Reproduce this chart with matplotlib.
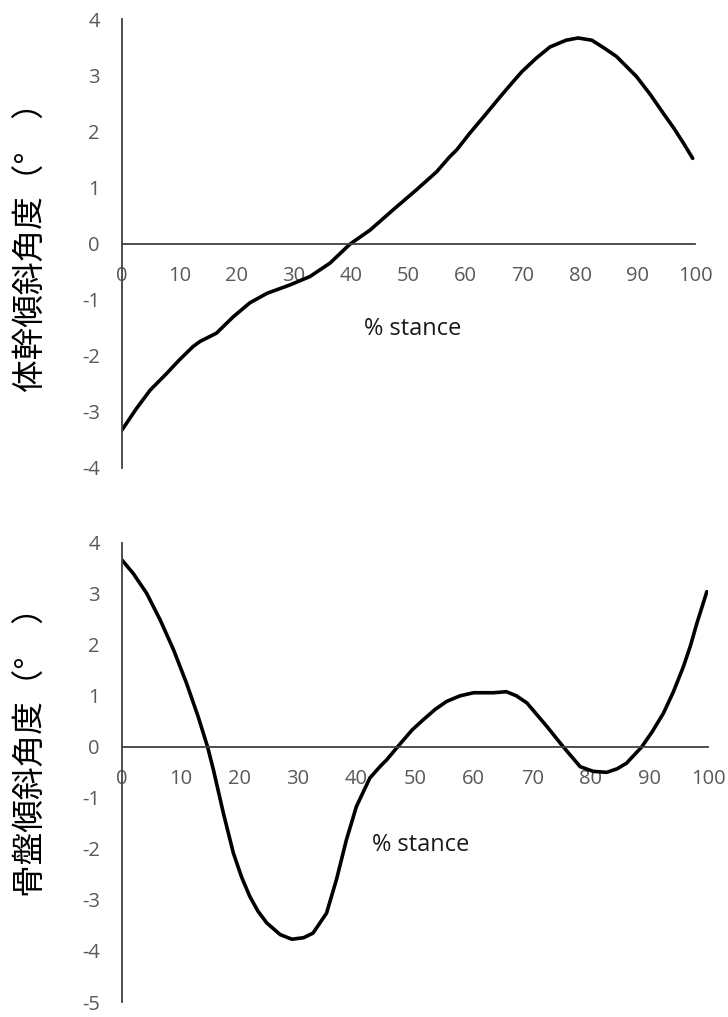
import matplotlib
matplotlib.use("Agg")
import matplotlib.pyplot as plt

plt.rcParams["axes.unicode_minus"] = False

# ---- data ----
trunk_x = [0, 2.5, 4.9, 7.8, 10, 12.4, 13.6, 16.5, 19.4, 22.3, 25.3, 29.3, 32.8, 36.3,
           39.8, 43.3, 47.3, 51.4, 54.9, 57.2, 58.4, 60.7, 63.5, 66, 68, 69.8, 72.3,
           74.7, 77.5, 79.6, 82, 84, 86.3, 89.8, 92.2, 94.5, 96.3, 98, 99.6]
trunk = [-3.33, -2.95, -2.62, -2.32, -2.08, -1.84, -1.75, -1.60, -1.31, -1.06, -0.89,
         -0.74, -0.59, -0.35, -0.01, 0.24, 0.60, 0.96, 1.28, 1.55, 1.67, 1.97, 2.31,
         2.62, 2.86, 3.07, 3.31, 3.51, 3.63, 3.67, 3.63, 3.50, 3.34, 2.98, 2.66, 2.32,
         2.06, 1.79, 1.52]

pelvis_x = [0, 1.9, 4.2, 6.5, 8.8, 11.0, 13.0, 14.6, 15.6, 17.3, 19.0, 20.4, 21.8, 23.2,
            24.7, 27, 29.0, 31, 32.6, 34.9, 36.6, 38.3, 40.0, 42.3, 44, 45.2, 47.4, 49.5,
            51.4, 53.4, 55.4, 57.7, 60.0, 63.4, 65.6, 67.3, 69.1, 72.5, 75.3, 78.2, 80.4,
            82.7, 84.5, 86.1, 88.7, 90.5, 92.4, 94.1, 95.8, 97, 98.1, 99.8]
pelvis = [3.66, 3.40, 3.01, 2.49, 1.90, 1.25, 0.59, 0.0, -0.45, -1.30, -2.08, -2.55,
          -2.93, -3.22, -3.45, -3.68, -3.77, -3.74, -3.65, -3.26, -2.60, -1.82, -1.17,
          -0.61, -0.39, -0.25, 0.05, 0.33, 0.53, 0.73, 0.89, 1.00, 1.06, 1.06, 1.08,
          1.00, 0.86, 0.40, 0.0, -0.39, -0.48, -0.50, -0.43, -0.32, 0.0, 0.30, 0.66,
          1.08, 1.57, 1.98, 2.42, 3.04]

xticks = [0, 10, 20, 30, 40, 50, 60, 70, 80, 90, 100]
top_yticks = [-4, -3, -2, -1, 0, 1, 2, 3, 4]
bot_yticks = [-5, -4, -3, -2, -1, 0, 1, 2, 3, 4]
top_ylabel = "体幹傾斜角度（°\u3000）"
bot_ylabel = "骨盤傾斜角度（°\u3000）"
xlabel = "% stance"

W, H = 728, 1017
fig = plt.figure(figsize=(W / 100, H / 100), dpi=100)

tick_color = "#595959"
axis_color = "#404040"
tick_font = "Open Sans"


def make_ax(rect_px, ylim, yticks, x, y):
    l, t, r, b = rect_px
    ax = fig.add_axes([l / W, 1 - b / H, (r - l) / W, (b - t) / H])
    ax.plot(x, y, color="black", lw=2.6, solid_capstyle="round", solid_joinstyle="round")
    ax.set_xlim(0, 100)
    ax.set_ylim(*ylim)
    ax.set_xticks(xticks)
    ax.set_yticks(yticks)
    for s in ("top", "right"):
        ax.spines[s].set_visible(False)
    ax.spines["bottom"].set_position(("data", 0))
    ax.spines["left"].set_position(("data", 0))
    for s in ("bottom", "left"):
        ax.spines[s].set_color(axis_color)
        ax.spines[s].set_linewidth(1.3)
    ax.tick_params(axis="both", length=0, colors=tick_color, labelsize=14.5)
    ax.tick_params(axis="x", pad=16)
    ax.tick_params(axis="y", pad=16)
    for lab in ax.get_xticklabels() + ax.get_yticklabels():
        lab.set_fontfamily(tick_font)
    ax.patch.set_visible(False)
    return ax


ax1 = make_ax((122, 19.5, 695, 467.5), (-4, 4), top_yticks, trunk_x, trunk)
ax2 = make_ax((122, 542.7, 708, 1002), (-5, 4), bot_yticks, pelvis_x, pelvis)

fig.text(413 / W, 1 - 329 / H, xlabel, ha="center", va="center", fontsize=17,
         family=tick_font, color="#1a1a1a")
fig.text(421 / W, 1 - 845 / H, xlabel, ha="center", va="center", fontsize=17,
         family=tick_font, color="#1a1a1a")

jp = ["Noto Sans CJK JP", "DejaVu Sans"]
fig.text(32 / W, 1 - 239 / H, top_ylabel, rotation=90, ha="center", va="center",
         fontsize=23.5, family=jp, color="black")
fig.text(32 / W, 1 - 744 / H, bot_ylabel, rotation=90, ha="center", va="center",
         fontsize=23.5, family=jp, color="black")

fig.savefig("out.png", dpi=100, facecolor="white")
